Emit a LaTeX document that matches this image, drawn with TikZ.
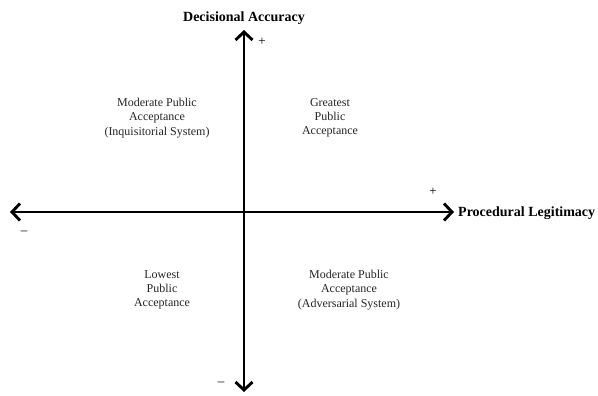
\documentclass[tikz,border=0pt]{standalone}
\usepackage{fontspec}
\setmainfont{Liberation Serif}
\usetikzlibrary{arrows.meta}
\begin{document}
\begin{tikzpicture}[x=1pt,y=-1pt,
  axis/.style={line width=2.9pt,{Straight Barb[length=8pt,width=17pt,line width=2.9pt]}-{Straight Barb[length=8pt,width=17pt,line width=2.9pt]}},
  quad/.style={align=center,font=\fontsize{12}{14.2}\selectfont,text=black!85,inner sep=0pt},
  axlabel/.style={font=\fontsize{14}{16}\selectfont\bfseries,inner sep=0pt},
  sign/.style={font=\fontsize{13}{14}\selectfont,inner sep=0pt}]
\useasboundingbox[fill=white] (0,0) rectangle (598,396);
\coordinate (L) at (10,212);
\coordinate (R) at (454,212);
\coordinate (T) at (244,30);
\coordinate (B) at (244,392);
\draw[axis] (L) -- (R);
\draw[axis] (B) -- (T);
\node[axlabel,anchor=west] (pl) at (458,213) {Procedural Legitimacy};
\node[axlabel] (da) at (244,18) {Decisional Accuracy};
\node[sign] (p1) at (262,42) {+};
\node[sign] (p2) at (433,192) {+};
\node[sign] (m1) at (24,233) {–};
\node[sign] (m2) at (221,384) {–};
\node[quad] (q1) at (157,118) {Moderate Public\\Acceptance\\(Inquisitorial System)};
\node[quad] (q2) at (330,118) {Greatest\\Public\\Acceptance};
\node[quad] (q3) at (162,290) {Lowest\\Public\\Acceptance};
\node[quad] (q4) at (349,290) {Moderate Public\\Acceptance\\(Adversarial System)};
\end{tikzpicture}
\end{document}
